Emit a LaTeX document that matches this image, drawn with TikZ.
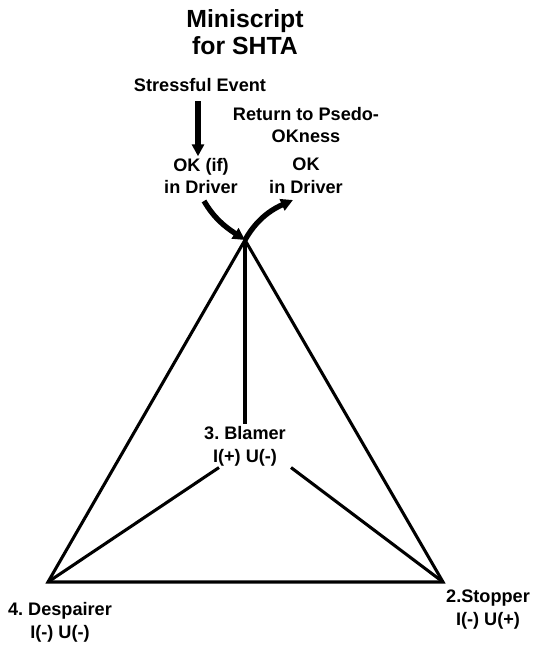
\documentclass[tikz,border=0pt]{standalone}
\usepackage{fontspec}
\setmainfont{Liberation Sans}
\usetikzlibrary{arrows.meta, positioning}
\frenchspacing

\begin{document}
\begin{tikzpicture}[
        x=0.75pt, y=-0.75pt,
        every node/.style={font=\bfseries\fontsize{13.6}{17.2}\selectfont, align=center, inner sep=1pt},
        titlebox/.style={font=\bfseries\fontsize{18.6}{20.5}\selectfont},
        side/.style={line width=2.3pt, line join=miter},
        arr/.style={-{Triangle[length=9pt, width=9pt]}, line width=4pt},
      ]
      \useasboundingbox (0,0) rectangle (538,649);

      % corners of the triangle
      \coordinate (top)   at (245,240);
      \coordinate (left)  at (48,582);
      \coordinate (right) at (443,582);

      \node[titlebox] (title) at (245,32) {Miniscript\\for SHTA};
      \node (event)  at (200,85)  {Stressful Event};
      \node (back)   at (306,125) {Return to Psedo-\\OKness};
      \node (okif)   at (201,176) {OK (if)\\in Driver};
      \node (ok)     at (306,176) {OK\\in Driver};
      \node (blamer) at (245,446) {3. Blamer\\I(+) U(-)};
      \node (despair) at (60,622) {4. Despairer\\I(-) U(-)};
      \node (stopper) at (488,610) {2.Stopper\\I(-) U(+)};

      % ends of the arrows near the labels
      \coordinate (okifout) at (204,201);
      \coordinate (okin)    at (293,200);

      \draw[side] (top) -- (left) -- (right) -- cycle;
      \draw[side] (top) -- (blamer.north);
      \draw[side] (blamer.south -| 219,0) coordinate (bl) -- (left);
      \draw[side] (blamer.south -| 291,0) coordinate (br) -- (right);

      \draw[arr] (event.south) ++(-2,8) -- (okif.north -| 198,0);
      \draw[arr] (okifout) .. controls (214,218) and (224,226) .. (top);
      \draw[arr] (top) .. controls (254,224) and (266,212) .. (okin);
    \end{tikzpicture}
\end{document}
